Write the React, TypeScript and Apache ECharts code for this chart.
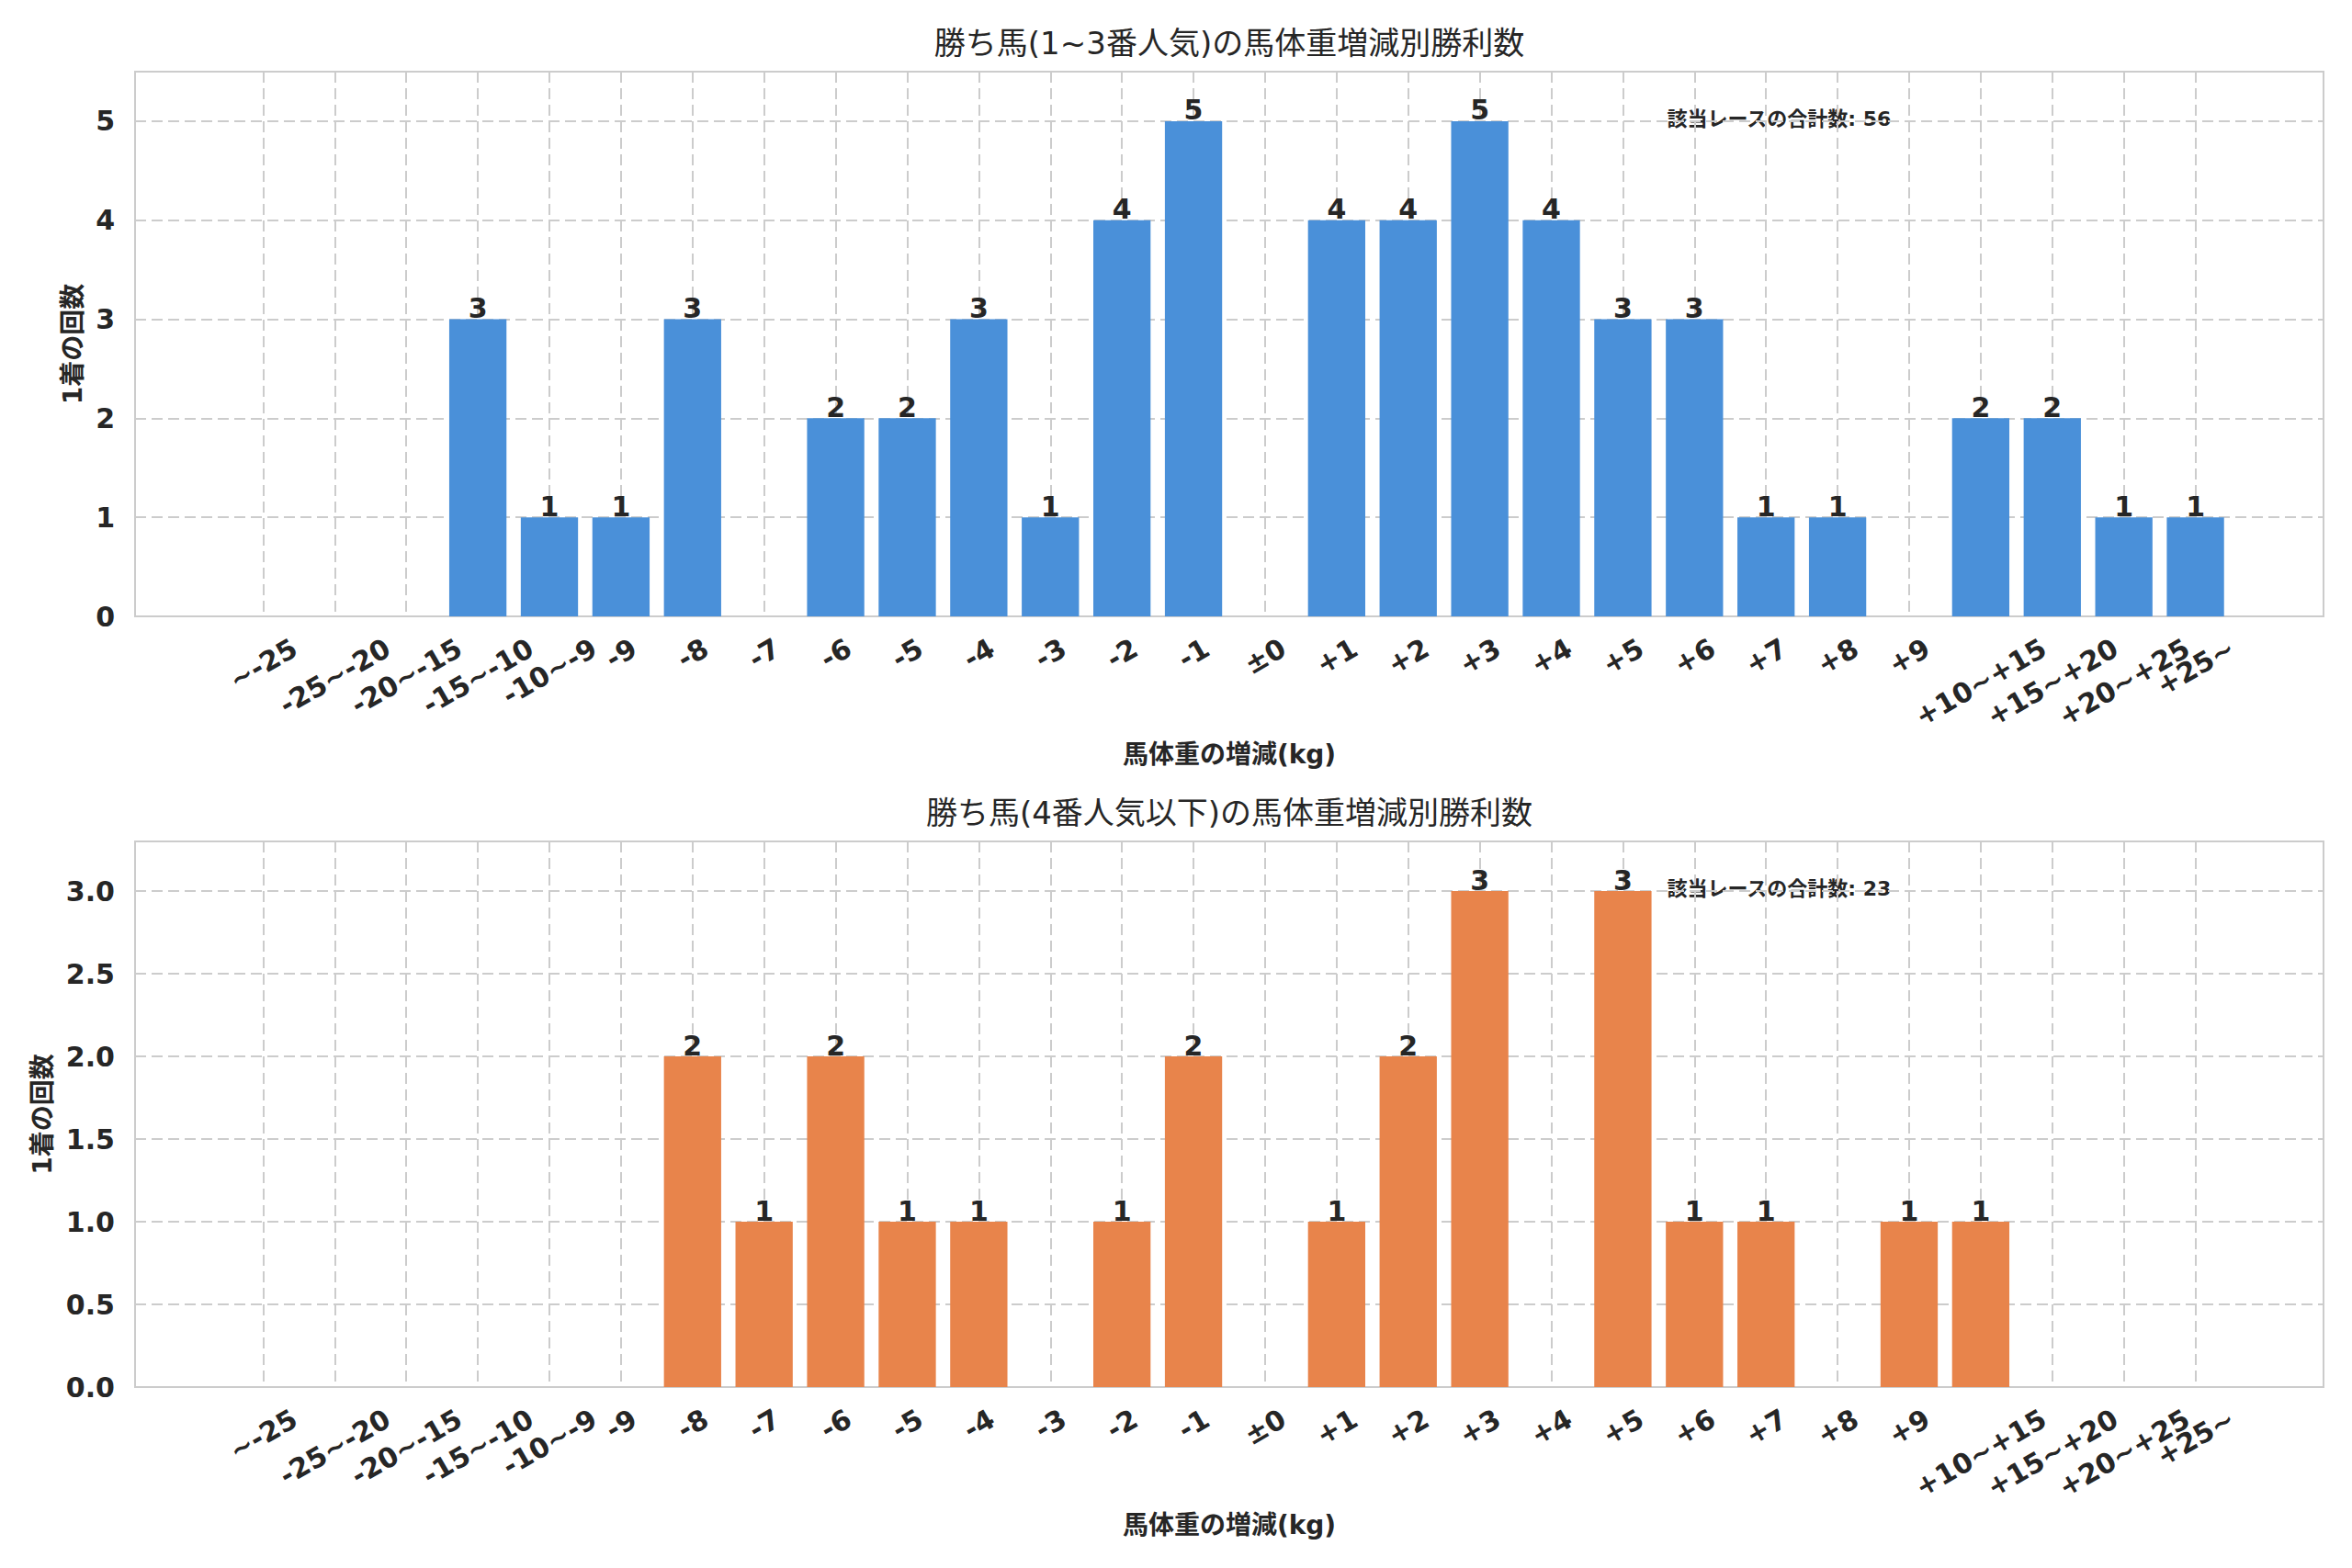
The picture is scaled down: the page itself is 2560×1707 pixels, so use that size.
import React, { useEffect, useRef } from "react";
import * as echarts from "echarts";

// ---------- data ----------
const categories = [
  "~-25", "-25~-20", "-20~-15", "-15~-10", "-10~-9", "-9", "-8", "-7", "-6", "-5",
  "-4", "-3", "-2", "-1", "±0", "+1", "+2", "+3", "+4", "+5", "+6", "+7", "+8", "+9",
  "+10~+15", "+15~+20", "+20~+25", "+25~",
];
const topValues = [0, 0, 0, 3, 1, 1, 3, 0, 2, 2, 3, 1, 4, 5, 0, 4, 4, 5, 4, 3, 3, 1, 1, 0, 2, 2, 1, 1];
const bottomValues = [0, 0, 0, 0, 0, 0, 2, 1, 2, 1, 1, 0, 1, 2, 0, 1, 2, 3, 0, 3, 1, 1, 0, 1, 1, 0, 0, 0];
const topTitle = "勝ち馬(1~3番人気)の馬体重増減別勝利数";
const bottomTitle = "勝ち馬(4番人気以下)の馬体重増減別勝利数";
const xAxisName = "馬体重の増減(kg)";
const yAxisName = "1着の回数";
const totalLabel = "該当レースの合計数";
const topYInterval = 1;
const bottomYInterval = 0.5;
const topYDecimals = 0;
const bottomYDecimals = 1;

// ---------- style / layout ----------
const FONT = "'DejaVu Sans', 'Noto Sans CJK JP', sans-serif";
const TEXT = "#262626";
const GRID_COLOR = "#cccccc";
const TOP_COLOR = "#4a90d9";
const BOTTOM_COLOR = "#e8844b";
const W = 2560;
const H = 1707;
const FRAME_LEFT = 147;
const FRAME_WIDTH = 2382;
const X_PAD = 1.79;
const TICK_FONT = 30;
const PANELS = [
  { top: 78, height: 593, yNameGap: 52 },
  { top: 916, height: 594, yNameGap: 84 },
];

function measure(text: string, font: string): number {
  const ctx = document.createElement("canvas").getContext("2d");
  if (!ctx) return text.length * 18;
  ctx.font = font;
  return ctx.measureText(text).width;
}

export default function App() {
  const ref = useRef<HTMLDivElement>(null);

  useEffect(() => {
    document.body.style.margin = "0";
    if (!ref.current) return;
    const chart = echarts.init(ref.current, null, { renderer: "svg" });

    const units = categories.length - 1 + 2 * X_PAD;
    const unit = FRAME_WIDTH / units;
    const barLeft = FRAME_LEFT + X_PAD * unit;
    const barWidth = (categories.length - 1) * unit;

    const rich: Record<string, any> = {};
    categories.forEach((c, i) => {
      const w = measure(c, `bold ${TICK_FONT}px ${FONT}`);
      rich["c" + i] = {
        fontSize: TICK_FONT,
        fontWeight: "bold",
        fontFamily: FONT,
        color: TEXT,
        padding: [0.433 * w, 0.25 * w, 0, 0],
      };
    });

    const dashed = { color: GRID_COLOR, width: 2, type: [12, 6] as any };

    const series = [topValues, bottomValues];
    const colors = [TOP_COLOR, BOTTOM_COLOR];
    const intervals = [topYInterval, bottomYInterval];
    const decimals = [topYDecimals, bottomYDecimals];
    const titles = [topTitle, bottomTitle];

    const grid: any[] = [];
    const xAxis: any[] = [];
    const yAxis: any[] = [];
    const seriesOpt: any[] = [];
    const graphic: any[] = [];

    PANELS.forEach((p, k) => {
      const data = series[k];
      const yMax = Math.max(...data) * 1.1;
      const interval = intervals[k];
      const g0 = grid.length;
      grid.push({
        left: FRAME_LEFT, top: p.top, width: FRAME_WIDTH, height: p.height,
        show: true, borderColor: GRID_COLOR, borderWidth: 2, backgroundColor: "transparent",
        outerBoundsMode: "none",
      });
      grid.push({
        left: barLeft, top: p.top, width: barWidth, height: p.height,
        outerBoundsMode: "none",
      });
      const xa0 = xAxis.length;
      xAxis.push({ gridIndex: g0, type: "value", min: 0, max: 1, show: false });
      xAxis.push({
        gridIndex: g0 + 1,
        type: "category",
        data: categories,
        boundaryGap: false,
        axisLine: { show: false },
        axisTick: { show: false },
        splitLine: { show: true, lineStyle: dashed },
        axisLabel: {
          interval: 0,
          rotate: 30,
          align: "center",
          verticalAlign: "middle",
          margin: 32,
          formatter: (v: string, i: number) => `{c${i}|${v}}`,
          rich,
        },
        name: xAxisName,
        nameLocation: "middle",
        nameGap: 136,
        nameTextStyle: { fontSize: 28, fontWeight: "bold", fontFamily: FONT, color: TEXT },
      });
      const ya0 = yAxis.length;
      yAxis.push({
        gridIndex: g0,
        type: "value",
        min: 0,
        max: yMax,
        interval,
        axisLine: { show: false },
        axisTick: { show: false },
        splitLine: { show: true, lineStyle: dashed },
        axisLabel: {
          margin: 22,
          fontSize: TICK_FONT,
          fontWeight: "bold",
          fontFamily: FONT,
          color: TEXT,
          formatter: (v: number) => {
            const r = v / interval;
            return Math.abs(r - Math.round(r)) < 1e-6 ? v.toFixed(decimals[k]) : "";
          },
        },
        name: yAxisName,
        nameLocation: "middle",
        nameGap: p.yNameGap,
        nameTextStyle: { fontSize: 28, fontWeight: "bold", fontFamily: FONT, color: TEXT },
      });
      yAxis.push({ gridIndex: g0 + 1, type: "value", min: 0, max: yMax, show: false });

      seriesOpt.push({
        type: "bar",
        xAxisIndex: xa0 + 1,
        yAxisIndex: ya0 + 1,
        data,
        barWidth: "80%",
        clip: false,
        itemStyle: { color: colors[k] },
        label: {
          show: true,
          position: "top",
          distance: -3,
          fontSize: TICK_FONT,
          fontWeight: "bold",
          fontFamily: FONT,
          color: TEXT,
          formatter: (q: any) => (q.value > 0 ? String(q.value) : ""),
        },
      });

      graphic.push({
        type: "text",
        x: FRAME_LEFT + FRAME_WIDTH / 2,
        y: p.top - 31,
        style: {
          text: titles[k],
          fill: TEXT,
          fontSize: 34,
          fontFamily: FONT,
          fontWeight: "normal",
          align: "center",
          verticalAlign: "middle",
          textAlign: "center",
          textVerticalAlign: "middle",
        },
      });
      const total = data.reduce((a, b) => a + b, 0);
      graphic.push({
        type: "text",
        x: FRAME_LEFT + 0.7 * FRAME_WIDTH,
        y: p.top + 51,
        style: {
          text: `${totalLabel}: ${total}`,
          fill: TEXT,
          fontSize: 22,
          fontFamily: FONT,
          fontWeight: "bold",
          align: "left",
          verticalAlign: "middle",
          textAlign: "left",
          textVerticalAlign: "middle",
        },
      });
    });

    chart.setOption({
      animation: false,
      backgroundColor: "#ffffff",
      grid,
      xAxis,
      yAxis,
      series: seriesOpt,
      graphic,
    });

    return () => chart.dispose();
  }, []);

  return <div ref={ref} style={{ width: W + "px", height: H + "px" }} />;
}
